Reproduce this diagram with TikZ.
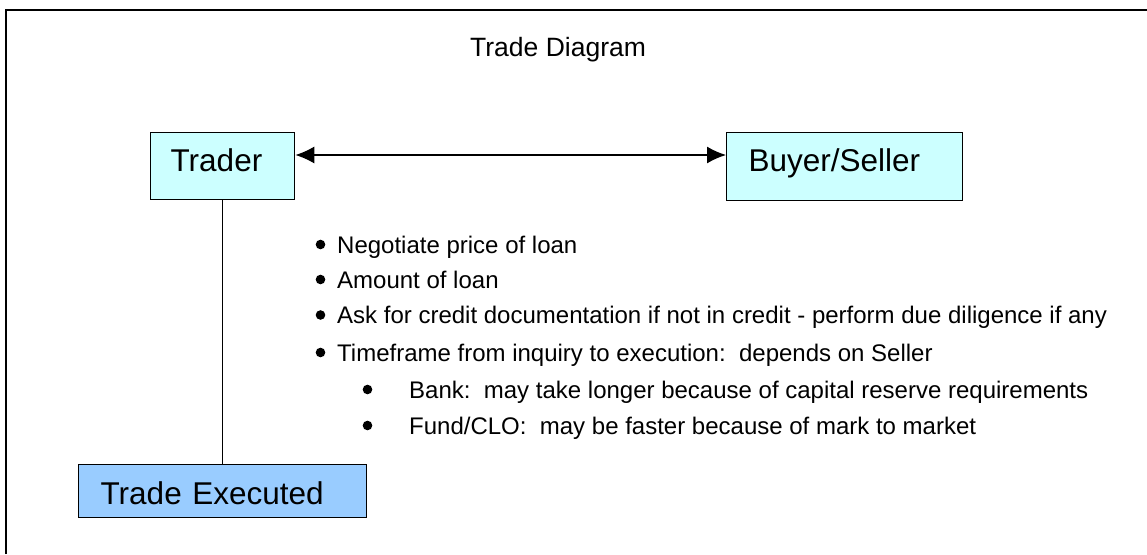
\documentclass[tikz,border=0pt]{standalone}
\usepackage{fontspec}
\setmainfont{Liberation Sans}
\usetikzlibrary{arrows.meta}
\definecolor{palecyan}{HTML}{CCFFFF}
\definecolor{paleblue}{HTML}{99CCFF}
\tikzset{
  box/.style={draw=black, line width=1.3pt, inner xsep=20pt, inner ysep=0pt,
    align=left, font=\fontsize{31.5}{31.5}\selectfont, text height=23pt, text depth=13pt},
  item/.style={anchor=base west, inner sep=0pt, font=\fontsize{24}{24}\selectfont},
  dot/.style={fill=black},
  bigtip/.tip={Latex[length=19pt,width=17pt]}
}
\begin{document}
\begin{tikzpicture}[x=1pt,y=-1pt]
  \useasboundingbox (0,0) rectangle (1147,554);
  % frame
  \draw[line width=2pt] (6,554) -- (6,10) -- (1147,10);
  % title
  \node[item, font=\fontsize{26.5}{26.5}\selectfont] (title) at (470,56.5) {Trade Diagram};
  % parties
  \node[box, fill=palecyan, anchor=north west, minimum height=67pt, text width=104pt] (trader) at (150,132) {Trader};
  \node[box, fill=palecyan, anchor=north west, minimum height=68pt, inner xsep=22pt, text width=192pt] (party) at (726,132) {Buyer/Seller};
  \node[box, fill=paleblue, anchor=north west, minimum height=52.5pt, inner xsep=22pt, text width=244pt,
        text height=27pt, text depth=0pt] (exec) at (78,464) {Trade Executed};
  % connectors
  \draw[line width=1.4pt, {bigtip}-{bigtip}] (trader.east |- 0,155) -- (party.west |- 0,155);
  \draw[line width=1.2pt] (trader.south) -- (exec.north);
  % list
  \node[item] (n1) at (337,253) {Negotiate price of loan};
  \node[item] (n2) at (337,288) {Amount of loan};
  \node[item] (n3) at (337,323.5) {Ask for credit documentation if not in credit - perform due diligence if any};
  \node[item] (n4) at (337,361) {Timeframe from inquiry to execution:\ \ depends on Seller};
  \node[item] (n5) at (409,398) {Bank:\ \ may take longer because of capital reserve requirements};
  \node[item] (n6) at (409,434) {Fund/CLO:\ \ may be faster because of mark to market};
  \foreach \n in {n1,n2,n3,n4} \fill[dot] ([xshift=-16.5pt,yshift=8.5pt]\n.base west) circle (4.8pt);
  \foreach \n in {n5,n6} \fill[dot] ([xshift=-41.5pt,yshift=8.5pt]\n.base west) circle (4.8pt);
\end{tikzpicture}
\end{document}
